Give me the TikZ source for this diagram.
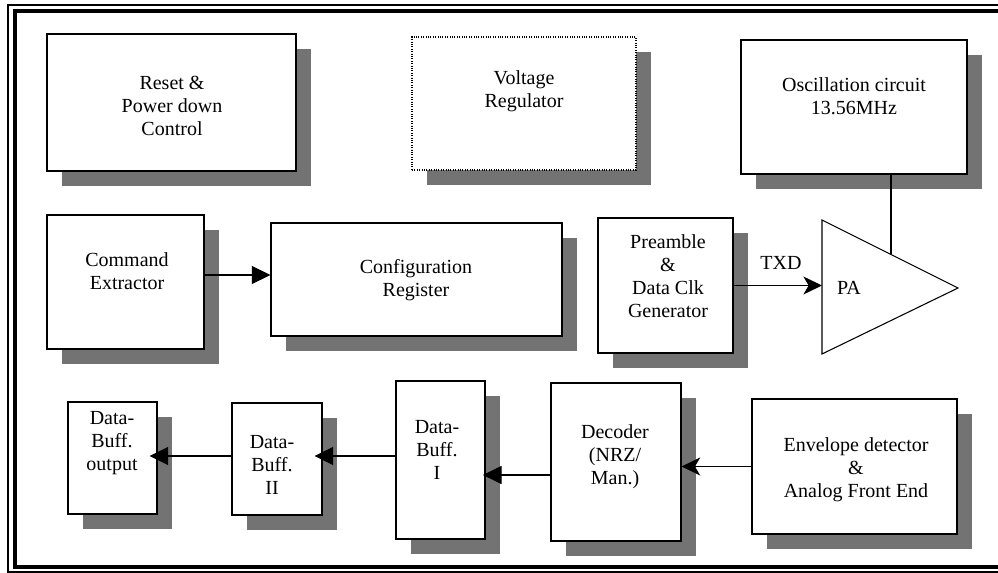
\documentclass[tikz,border=0pt]{standalone}
\usepackage{fontspec}
\setmainfont{Liberation Serif}
\usetikzlibrary{arrows.meta,shadows,calc}
\begin{document}
\begin{tikzpicture}[x=0.75pt,y=-0.75pt,
  blk/.style n args={2}{draw=black, line width=0.8pt, fill=white,
    minimum width=#1*0.75pt, minimum height=#2*0.75pt, inner sep=0pt,
    drop shadow={shadow xshift=11.25pt, shadow yshift=-11.25pt,
      fill=black!55, opacity=1}},
  lbl/.style={align=center, font=\fontsize{15}{17.3}\selectfont, inner sep=0pt},
  arr/.style={line width=0.8pt, -{Triangle[length=14pt,width=13.5pt]}},
  arrs/.style={line width=0.8pt, -{Stealth[length=14pt,width=13.5pt,inset=4pt]}},
]
\useasboundingbox (0,0) rectangle (998,573);

% double frame (right side runs off the page)
\draw[line width=0.8pt] (1010,5) -- (8,5) -- (8,572) -- (1010,572);
\draw[line width=3pt] (1010,11.5) -- (15,11.5) -- (15,567) -- (1010,567);

% top row
\node[blk={249}{137}] (reset) at (171.5,102.5) {};
\node[blk={224}{133}, densely dotted] (volt) at (524,103.5) {};
\node[blk={226}{134}] (osc) at (854,107) {};

% middle row
\node[blk={157}{134}] (cmd) at (125.5,282) {};
\node[blk={291}{113}] (cfg) at (416.5,279.5) {};
\node[blk={135}{135}] (pre) at (665.5,285.5) {};

% bottom row
\node[blk={89}{112}] (dout) at (112.5,458) {};
\node[blk={90}{112}] (db2) at (277,459) {};
\node[blk={89}{158}] (db1) at (440.5,460) {};
\node[blk={130}{158}] (dec) at (616,462) {};
\node[blk={205}{135}] (env) at (854.5,466.5) {};

% power amplifier
\coordinate (pat) at (822,220);
\coordinate (pax) at (958,288);
\coordinate (pab) at (822,354);
\draw[line width=0.8pt, fill=white] (pat) -- (pax) -- (pab) -- cycle;
\coordinate (paup) at ($(pat)!0.507!(pax)$);

% labels
\node[lbl] (treset) at (172,106) {Reset \&\\Power down\\Control};
\node[lbl] (tvolt) at (524,91) {Voltage\\Regulator};
\node[lbl] (tosc) at (854,96) {Oscillation circuit\\13.56MHz};
\node[lbl] (tcmd) at (127,271) {Command\\Extractor};
\node[lbl] (tcfg) at (416,280) {Configuration\\Register};
\node[lbl] (tpre) at (668,276) {Preamble\\\&\\Data Clk\\Generator};
\node[lbl] (tpa) at (849,288) {PA};
\node[lbl] (ttxd) at (781,263) {TXD};
\node[lbl] (tdout) at (112,443) {Data-\\Buff.\\output};
\node[lbl] (tdb2) at (272,465) {Data-\\Buff.\\II};
\node[lbl] (tdb1) at (437,450) {Data-\\Buff.\\I};
\node[lbl] (tdec) at (615,457) {Decoder\\(NRZ/\\Man.)};
\node[lbl] (tenv) at (856,470) {Envelope detector\\\&\\Analog Front End};

% connectors
\draw[arr] ([yshift=5.25pt]cmd.east) -- ([yshift=5.25pt]cmd.east -| cfg.west);
\draw[arrs] (pre.east) -- (pre.east -| pat);
\draw[line width=0.8pt] (osc.south -| paup) -- (paup);
\draw[arrs] (env.west) -- (env.west -| dec.east);
\draw[arr, shorten >=-2pt] ([yshift=-9.75pt]dec.west) -- ([yshift=-9.75pt]dec.west -| db1.east);
\draw[arr, shorten >=-6pt] ([yshift=3pt]db1.west) -- ([yshift=3pt]db1.west -| db2.east);
\draw[arr, shorten >=-6pt] ([yshift=2.25pt]db2.west) -- ([yshift=2.25pt]db2.west -| dout.east);
\end{tikzpicture}
\end{document}
